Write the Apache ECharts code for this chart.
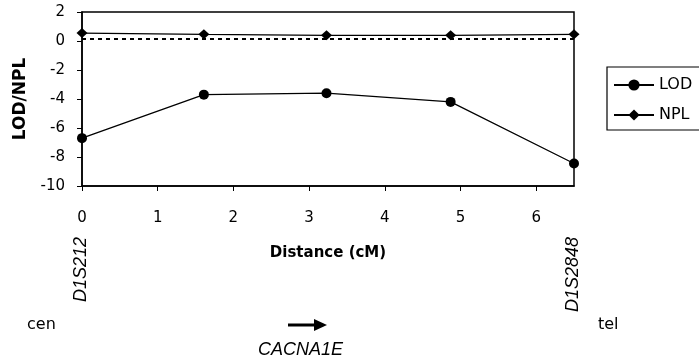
<!DOCTYPE html>
<html>
<head>
<meta charset="utf-8">
<script src="https://cdn.jsdelivr.net/npm/echarts@6/dist/echarts.min.js"></script>
<style>
  html, body { margin: 0; padding: 0; background: #fff; }
  #main { width: 699px; height: 360px; }
</style>
</head>
<body>
<div id="main"></div>
<script>
// distances of the markers (cM)
var distances = [0, 1.61, 3.23, 4.87, 6.5];
var lodValues = [-6.7, -3.7, -3.6, -4.2, -8.45];
var nplValues = [0.55, 0.46, 0.39, 0.39, 0.46];
var thresholdValue = 0.16;   // dotted line
var xTicks = [0, 1, 2, 3, 4, 5, 6];
// flanking markers drawn under the axis
var markerNames = ['D1S212', 'D1S2848'];
var markerPos = [0, 6.5];

var font = '"DejaVu Sans", sans-serif';
var italicFont = '"Liberation Sans", Arial, sans-serif';

function pairs(xs, ys) {
  return xs.map(function (x, i) { return [x, ys[i]]; });
}

var myChart = echarts.init(document.getElementById('main'));
var option = {
  animation: false,
  textStyle: { fontFamily: font, color: '#000' },
  grid: {
    left: 82, right: 125, top: 12, bottom: 174,
    show: true, borderColor: '#000', borderWidth: 1.5
  },
  legend: {
    orient: 'vertical',
    left: 607, top: 67,
    itemWidth: 40, itemHeight: 14, itemGap: 14,
    padding: [10, 40, 7, 6],
    borderColor: '#000', borderWidth: 1.2,
    textStyle: { fontSize: 16, color: '#000', fontFamily: font },
    data: ['LOD', 'NPL']
  },
  xAxis: {
    type: 'value', min: 0, max: 6.5, interval: 1,
    name: 'Distance (cM)', nameLocation: 'middle', nameGap: 60,
    nameTextStyle: { fontWeight: 'bold', fontSize: 15, color: '#000', fontFamily: font },
    axisLine: { onZero: false, lineStyle: { color: '#000', width: 1.5 } },
    axisTick: { show: true, length: 5, lineStyle: { color: '#000' }, customValues: xTicks },
    axisLabel: { fontSize: 15, color: '#000', margin: 25, customValues: xTicks },
    splitLine: { show: false }
  },
  yAxis: {
    type: 'value', min: -10, max: 2, interval: 2,
    name: 'LOD/NPL', nameLocation: 'middle', nameGap: 53, nameRotate: 90,
    nameTextStyle: { fontWeight: 'bold', fontSize: 17, color: '#000', fontFamily: font },
    axisLine: { show: true, onZero: false, lineStyle: { color: '#000', width: 1.5 } },
    axisTick: { show: true, length: 5, lineStyle: { color: '#000' } },
    axisLabel: { fontSize: 15, color: '#000', margin: 17 },
    splitLine: { show: false }
  },
  series: [
    {
      name: 'LOD', type: 'line',
      data: pairs(distances, lodValues),
      symbol: 'circle', symbolSize: 10,
      lineStyle: { color: '#000', width: 1.3 },
      itemStyle: { color: '#000' }
    },
    {
      name: 'NPL', type: 'line',
      data: pairs(distances, nplValues),
      symbol: 'diamond', symbolSize: [11, 10],
      lineStyle: { color: '#000', width: 1.3 },
      itemStyle: { color: '#000' },
      markLine: {
        silent: true, symbol: 'none', label: { show: false },
        lineStyle: { color: '#000', type: [4, 4], width: 2 },
        data: [{ yAxis: thresholdValue }]
      }
    }
  ]
};
myChart.setOption(option);

// labels below the axis, placed from data coordinates
var labelY = 237;
var graphics = markerNames.map(function (name, i) {
  var px = myChart.convertToPixel({ gridIndex: 0 }, [markerPos[i], 0])[0];
  return {
    type: 'text', x: px - 1, y: labelY, rotation: Math.PI / 2,
    style: {
      text: name, fill: '#000', fontSize: 18, fontStyle: 'italic',
      fontFamily: italicFont, align: 'right', verticalAlign: 'middle'
    }
  };
});
graphics.push(
  { type: 'text', x: 27, y: 325, style: { text: 'cen', fill: '#000', fontSize: 16, fontFamily: font, verticalAlign: 'middle' } },
  { type: 'text', x: 598, y: 325, style: { text: 'tel', fill: '#000', fontSize: 16, fontFamily: font, verticalAlign: 'middle' } },
  { type: 'line', shape: { x1: 288, y1: 325, x2: 316, y2: 325 }, style: { stroke: '#000', lineWidth: 3 } },
  { type: 'polygon', shape: { points: [[314, 319], [327, 325], [314, 331]] }, style: { fill: '#000' } },
  { type: 'text', x: 258, y: 350, style: { text: 'CACNA1E', fill: '#000', fontSize: 18, fontStyle: 'italic', fontFamily: italicFont, verticalAlign: 'middle' } }
);
myChart.setOption({ graphic: graphics });
</script>
</body>
</html>
